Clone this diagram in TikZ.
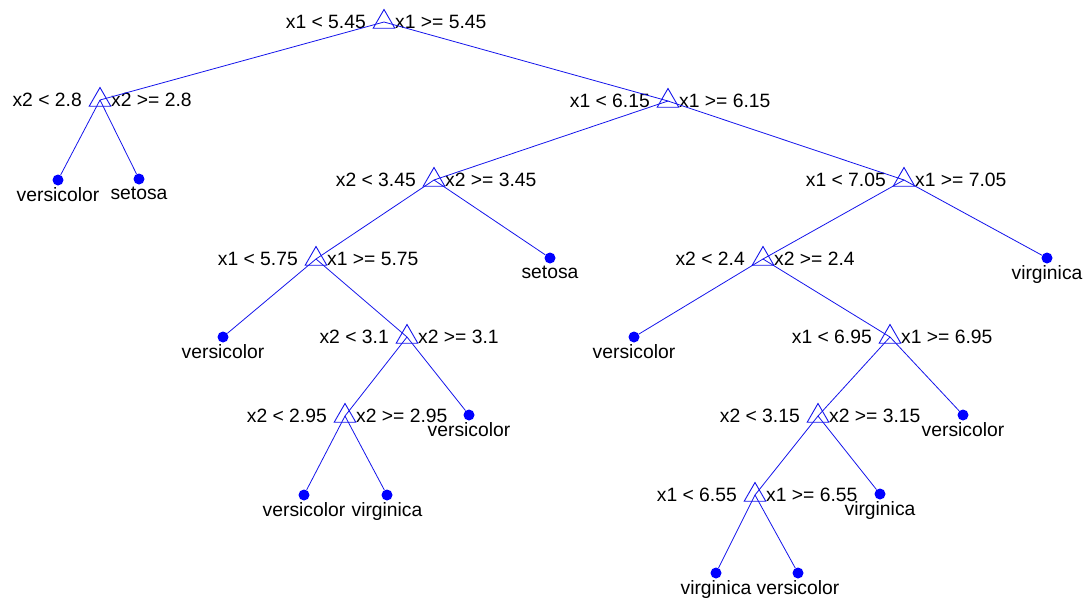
\documentclass[tikz,border=0pt]{standalone}
\usepackage{fontspec}
\setmainfont{Liberation Sans}
\usepackage{tikz}
\usetikzlibrary{shapes.geometric,positioning,calc}

\definecolor{treeblue}{RGB}{20,20,235}

\begin{document}
\begin{tikzpicture}[x=1pt,y=-1pt,
  font=\fontsize{19.3}{22}\selectfont,
  splitnode/.style={draw=treeblue,line width=0.9pt,regular polygon,regular polygon sides=3,minimum size=25pt,inner sep=0pt},
  leafnode/.style={circle,fill=blue,minimum size=11pt,inner sep=0pt},
  branch/.style={treeblue,line width=0.8pt},
  ltext/.style={anchor=base east,inner sep=0pt,xshift=-18pt,yshift=-6.5pt},
  rtext/.style={anchor=base west,inner sep=0pt,xshift=11pt,yshift=-6.5pt},
  leaftext/.style={anchor=north,inner sep=0pt,yshift=-7.5pt}]
  \useasboundingbox (0,0) rectangle (1085,598);

  % split nodes
  \node[splitnode] (root) at (384,22) {};
  \node[splitnode] (s1) at (100,100) {};
  \node[splitnode] (s2) at (668,101) {};
  \node[splitnode] (s3) at (434,180) {};
  \node[splitnode] (s4) at (904,180) {};
  \node[splitnode] (s5) at (316,259) {};
  \node[splitnode] (s6) at (763,259) {};
  \node[splitnode] (s7) at (407,337) {};
  \node[splitnode] (s8) at (890,337) {};
  \node[splitnode] (s9) at (345,416) {};
  \node[splitnode] (s10) at (818,416) {};
  \node[splitnode] (s11) at (755,495) {};

  % split rules
  \node[ltext] at (root) {x1 < 5.45};  \node[rtext] at (root) {x1 >= 5.45};
  \node[ltext] at (s1) {x2 < 2.8};     \node[rtext] at (s1) {x2 >= 2.8};
  \node[ltext] at (s2) {x1 < 6.15};    \node[rtext] at (s2) {x1 >= 6.15};
  \node[ltext] at (s3) {x2 < 3.45};    \node[rtext] at (s3) {x2 >= 3.45};
  \node[ltext] at (s4) {x1 < 7.05};    \node[rtext] at (s4) {x1 >= 7.05};
  \node[ltext] at (s5) {x1 < 5.75};    \node[rtext] at (s5) {x1 >= 5.75};
  \node[ltext] at (s6) {x2 < 2.4};     \node[rtext] at (s6) {x2 >= 2.4};
  \node[ltext] at (s7) {x2 < 3.1};     \node[rtext] at (s7) {x2 >= 3.1};
  \node[ltext] at (s8) {x1 < 6.95};    \node[rtext] at (s8) {x1 >= 6.95};
  \node[ltext] at (s9) {x2 < 2.95};    \node[rtext] at (s9) {x2 >= 2.95};
  \node[ltext] at (s10) {x2 < 3.15};   \node[rtext] at (s10) {x2 >= 3.15};
  \node[ltext] at (s11) {x1 < 6.55};   \node[rtext] at (s11) {x1 >= 6.55};

  % leaves
  \node[leafnode] (lf1) at (58,180) {};
  \node[leafnode] (lf2) at (139,179) {};
  \node[leafnode] (lf3) at (550,258) {};
  \node[leafnode] (lf4) at (1047,258) {};
  \node[leafnode] (lf5) at (223,337) {};
  \node[leafnode] (lf6) at (634,337) {};
  \node[leafnode] (lf7) at (469,415) {};
  \node[leafnode] (lf8) at (963,415) {};
  \node[leafnode] (lf9) at (304,495) {};
  \node[leafnode] (lf10) at (387,495) {};
  \node[leafnode] (lf11) at (880,494) {};
  \node[leafnode] (lf12) at (716,573) {};
  \node[leafnode] (lf13) at (798,573) {};

  \node[leaftext] at (lf1) {versicolor};
  \node[leaftext] at (lf2) {setosa};
  \node[leaftext] at (lf3) {setosa};
  \node[leaftext] at (lf4) {virginica};
  \node[leaftext] at (lf5) {versicolor};
  \node[leaftext] at (lf6) {versicolor};
  \node[leaftext] at (lf7) {versicolor};
  \node[leaftext] at (lf8) {versicolor};
  \node[leaftext] at (lf9) {versicolor};
  \node[leaftext] at (lf10) {virginica};
  \node[leaftext] at (lf11) {virginica};
  \node[leaftext] at (lf12) {virginica};
  \node[leaftext] at (lf13) {versicolor};

  % branches
  \draw[branch] (root.center) -- (s1.center);
  \draw[branch] (root.center) -- (s2.center);
  \draw[branch] (s1.center) -- (lf1);
  \draw[branch] (s1.center) -- (lf2);
  \draw[branch] (s2.center) -- (s3.center);
  \draw[branch] (s2.center) -- (s4.center);
  \draw[branch] (s3.center) -- (s5.center);
  \draw[branch] (s3.center) -- (lf3);
  \draw[branch] (s4.center) -- (s6.center);
  \draw[branch] (s4.center) -- (lf4);
  \draw[branch] (s5.center) -- (lf5);
  \draw[branch] (s5.center) -- (s7.center);
  \draw[branch] (s6.center) -- (lf6);
  \draw[branch] (s6.center) -- (s8.center);
  \draw[branch] (s7.center) -- (s9.center);
  \draw[branch] (s7.center) -- (lf7);
  \draw[branch] (s8.center) -- (s10.center);
  \draw[branch] (s8.center) -- (lf8);
  \draw[branch] (s9.center) -- (lf9);
  \draw[branch] (s9.center) -- (lf10);
  \draw[branch] (s10.center) -- (s11.center);
  \draw[branch] (s10.center) -- (lf11);
  \draw[branch] (s11.center) -- (lf12);
  \draw[branch] (s11.center) -- (lf13);
\end{tikzpicture}
\end{document}
